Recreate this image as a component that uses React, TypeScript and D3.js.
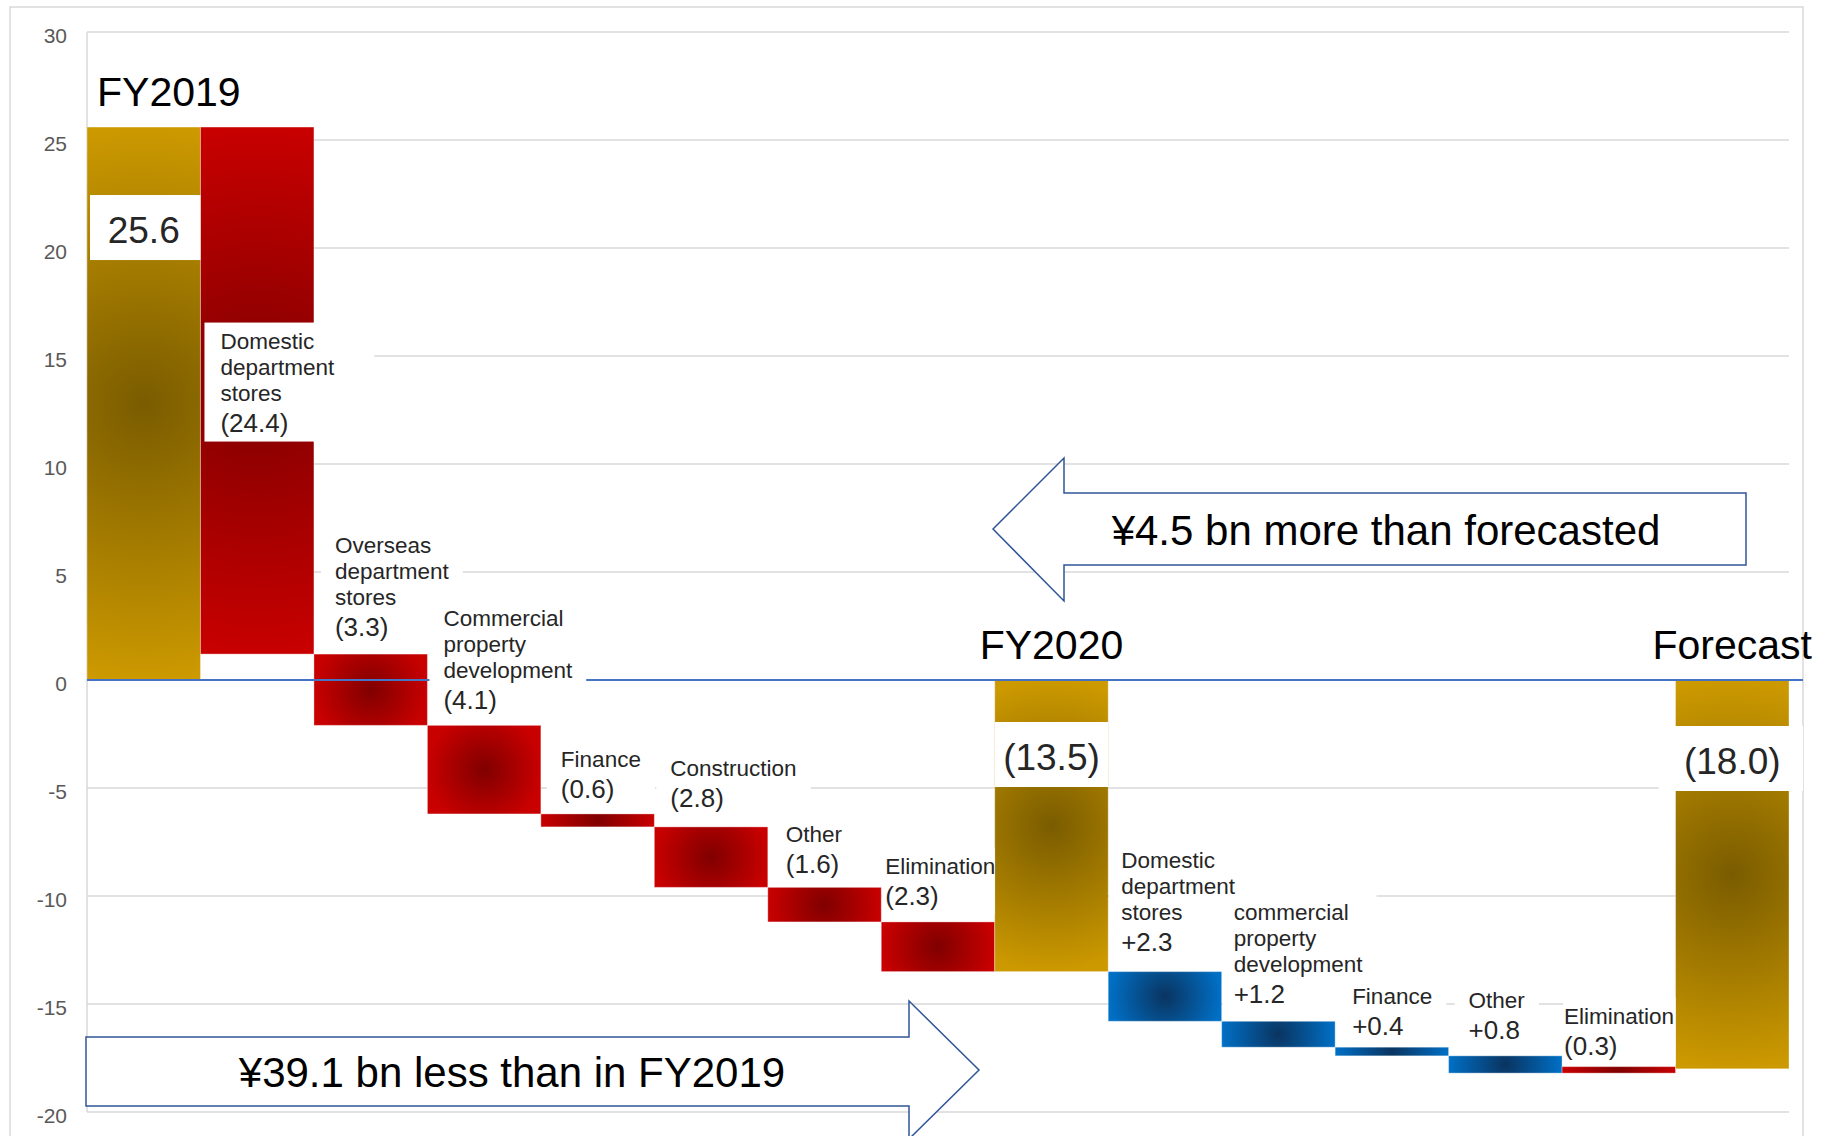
import React from 'react';
import * as d3 from 'd3';

// ---------------- data ----------------
const totalNames = ['FY2019', 'FY2020', 'Forecast'];
const totalValues = [25.6, -13.5, -18.0];
const yoyCategories = [
  'Domestic department stores',
  'Overseas department stores',
  'Commercial property development',
  'Finance',
  'Construction',
  'Other',
  'Elimination',
];
const yoyValues = [-24.4, -3.3, -4.1, -0.6, -2.8, -1.6, -2.3];
const fcCategories = [
  'Domestic department stores',
  'commercial property development',
  'Finance',
  'Other',
  'Elimination',
];
const fcValues = [2.3, 1.2, 0.4, 0.8, -0.3];
const yTicks = [30, 25, 20, 15, 10, 5, 0, -5, -10, -15, -20];
const arrowTexts = ['¥39.1 bn less than in FY2019', '¥4.5 bn more than forecasted'];

// ---------------- layout ----------------
const W = 1823;
const H = 1136;
const plotLeft = 87;
const plotRight = 1789;
const plotTop = 32;
const plotBottom = 1112;
const frameRight = 1803;
const FONT = '"Liberation Sans", Arial, sans-serif';
const labelDx = [20, 21, 16, 20, 16, 18, 4, 13, 12, 17, 20, 2];
const labelGap = [0, 18, 16, 16, 20, 14, 17, 21, 18, 12, 17, 12];
const totalBoxOffset = [68, 42, 46];
const totalBoxExtL = [-3, 0, 17];
const totalBoxExtR = [0, 0, 14];

const COLORS: Record<string, [string, string]> = {
  gold: ['#7A5C00', '#CC9900'],
  red: ['#800000', '#C80000'],
  blue: ['#0A3460', '#0070C6'],
};

type Col = {
  kind: 'total' | 'delta';
  name: string;
  value: number;
  lo: number;
  hi: number;
  fill: string;
  inside?: boolean;
  li?: number;
  ti?: number;
};

function buildCols(): Col[] {
  const cols: Col[] = [];
  cols.push({ kind: 'total', name: totalNames[0], value: totalValues[0], lo: Math.min(0, totalValues[0]), hi: Math.max(0, totalValues[0]), fill: 'gold', ti: 0 });
  let level = totalValues[0];
  let li = 0;
  yoyValues.forEach((v, i) => {
    const a = level;
    const b = level + v;
    level = b;
    cols.push({ kind: 'delta', name: yoyCategories[i], value: v, lo: Math.min(a, b), hi: Math.max(a, b), fill: v < 0 ? 'red' : 'blue', inside: i === 0, li: li++ });
  });
  cols.push({ kind: 'total', name: totalNames[1], value: totalValues[1], lo: Math.min(0, totalValues[1]), hi: Math.max(0, totalValues[1]), fill: 'gold', ti: 1 });
  level = totalValues[1];
  fcValues.forEach((v, i) => {
    const a = level;
    const b = level - v;
    level = b;
    cols.push({ kind: 'delta', name: fcCategories[i], value: v, lo: Math.min(a, b), hi: Math.max(a, b), fill: v > 0 ? 'blue' : 'red', li: li++ });
  });
  cols.push({ kind: 'total', name: totalNames[2], value: totalValues[2], lo: Math.min(0, totalValues[2]), hi: Math.max(0, totalValues[2]), fill: 'gold', ti: 2 });
  return cols;
}

let _ctx: CanvasRenderingContext2D | null = null;
function measure(t: string, size: number): number {
  if (!_ctx && typeof document !== 'undefined') {
    _ctx = document.createElement('canvas').getContext('2d');
  }
  if (!_ctx) return t.length * size * 0.55;
  _ctx.font = `${size}px "Liberation Sans", Arial, sans-serif`;
  return _ctx.measureText(t).width;
}

const fmtDelta = (v: number) => (v < 0 ? `(${Math.abs(v).toFixed(1)})` : `+${v.toFixed(1)}`);
const fmtTotal = (v: number) => (v < 0 ? `(${Math.abs(v).toFixed(1)})` : v.toFixed(1));

export default function App() {
  const cols = buildCols();
  const x = d3
    .scaleBand<number>()
    .domain(d3.range(cols.length))
    .range([plotLeft, plotRight])
    .paddingInner(0)
    .paddingOuter(0);
  const y = d3.scaleLinear().domain([-20, 30]).range([plotBottom, plotTop]);
  const bw = x.bandwidth();

  const CAT = 22.5;
  const VAL = 26;
  const labels = cols
    .map((c, i) => ({ c, i }))
    .filter(({ c }) => c.kind === 'delta')
    .map(({ c, i }) => {
      const lines = c.name.split(' ');
      const valText = fmtDelta(c.value);
      const left = x(i)!;
      const textX = left + labelDx[c.li!];
      const topY = y(c.hi);
      const botY = y(c.lo);
      const valBase = c.inside ? (topY + botY) / 2 + 41 : topY - labelGap[c.li!];
      const catBases = lines.map((_, j) => valBase - 31 - 26 * (lines.length - 1 - j));
      const w = Math.max(...lines.map((l) => measure(l, CAT)), measure(valText, VAL));
      const bl = c.inside ? textX - 16 : Math.max(textX - 14, left + 1);
      let br = textX + w + (c.inside ? 40 : 14);
      const next = cols[i + 1];
      if (!c.inside && next && next.kind === 'total') br = Math.min(br, x(i + 1)!);
      const bt = catBases[0] - 26;
      const bb = valBase + 10;
      return { c, i, lines, valText, textX, valBase, catBases, box: [bl, bt, br - bl, bb - bt] };
    });

  const grads = cols.map((c, i) => {
    const x0 = x(i)!;
    const y0 = y(c.hi);
    const h = y(c.lo) - y0;
    return { id: `g${i}`, cx: x0 + bw / 2, cy: y0 + h / 2, r: Math.max(bw, h) / 2, colors: COLORS[c.fill] };
  });

  const arrowRight = [
    [86, 1037], [909, 1037], [909, 1001], [979, 1070], [909, 1139], [909, 1106], [86, 1106],
  ];
  const arrowLeft = [
    [993, 529], [1064, 458], [1064, 493], [1746, 493], [1746, 565], [1064, 565], [1064, 601],
  ];
  const poly = (pts: number[][]) => pts.map((p) => p.join(',')).join(' ');

  return (
    <svg
      width={W}
      height={H}
      viewBox={`0 0 ${W} ${H}`}
      style={{ position: 'absolute', left: 0, top: 0, display: 'block', background: '#fff' }}
      fontFamily={FONT}
    >
      <defs>
        {grads.map((g) => (
          <radialGradient key={g.id} id={g.id} gradientUnits="userSpaceOnUse" cx={g.cx} cy={g.cy} r={g.r} fx={g.cx} fy={g.cy}>
            <stop offset="0" stopColor={g.colors[0]} />
            <stop offset="1" stopColor={g.colors[1]} />
          </radialGradient>
        ))}
      </defs>

      <rect x={10} y={7} width={frameRight - 10} height={H + 20} fill="#fff" stroke="#D9D9D9" strokeWidth={1.5} />

      {yTicks.map((t) => (
        <line key={`g${t}`} x1={plotLeft} x2={plotRight} y1={y(t)} y2={y(t)} stroke="#D9D9D9" strokeWidth={1.5} />
      ))}
      <line x1={plotLeft} x2={plotLeft} y1={plotTop} y2={plotBottom} stroke="#D9D9D9" strokeWidth={1.5} />

      {yTicks.map((t) => (
        <text key={`t${t}`} x={67} y={y(t) + 11} textAnchor="end" fontSize={21} fill="#595959">
          {t}
        </text>
      ))}

      {cols.map((c, i) => (
        <rect
          key={`b${i}`}
          x={x(i)!}
          y={y(c.hi)}
          width={bw}
          height={Math.max(1, y(c.lo) - y(c.hi))}
          fill={`url(#g${i})`}
          stroke="rgba(255,255,255,0.35)"
          strokeWidth={1}
        />
      ))}

      <line x1={plotLeft} x2={frameRight} y1={y(0)} y2={y(0)} stroke="#4472C4" strokeWidth={2} />

      {labels.map((l) => (
        <rect key={`lb${l.i}`} x={l.box[0]} y={l.box[1]} width={l.box[2]} height={l.box[3]} fill="#fff" />
      ))}

      {cols.map((c, i) => {
        if (c.kind !== 'total') return null;
        const ti = c.ti!;
        const top = y(c.hi) + totalBoxOffset[ti];
        const left = x(i)! - totalBoxExtL[ti];
        const right = x(i)! + bw + totalBoxExtR[ti];
        return (
          <g key={`tv${i}`}>
            <rect x={left} y={top} width={right - left} height={65} fill="#fff" />
            <text x={x(i)! + bw / 2} y={top + 48} textAnchor="middle" fontSize={37} fill="#262626">
              {fmtTotal(c.value)}
            </text>
          </g>
        );
      })}

      {labels.map((l) => (
        <g key={`lt${l.i}`} fill="#262626">
          {l.lines.map((ln, j) => (
            <text key={j} x={l.textX} y={l.catBases[j]} fontSize={CAT}>
              {ln}
            </text>
          ))}
          <text x={l.textX} y={l.valBase} fontSize={VAL}>
            {l.valText}
          </text>
        </g>
      ))}

      {cols.map((c, i) =>
        c.kind === 'total' ? (
          <text
            key={`tt${i}`}
            x={c.ti === 0 ? x(i)! + 10 : x(i)! + bw / 2}
            y={y(c.hi) - 21}
            textAnchor={c.ti === 0 ? 'start' : 'middle'}
            fontSize={41}
            fill="#000"
          >
            {c.name}
          </text>
        ) : null
      )}

      <polygon points={poly(arrowRight)} fill="#fff" stroke="#2F5597" strokeWidth={1.5} />
      <text x={512} y={1087} textAnchor="middle" fontSize={42} fill="#000">
        {arrowTexts[0]}
      </text>
      <polygon points={poly(arrowLeft)} fill="#fff" stroke="#2F5597" strokeWidth={1.5} />
      <text x={1386} y={545} textAnchor="middle" fontSize={42} fill="#000">
        {arrowTexts[1]}
      </text>
    </svg>
  );
}
